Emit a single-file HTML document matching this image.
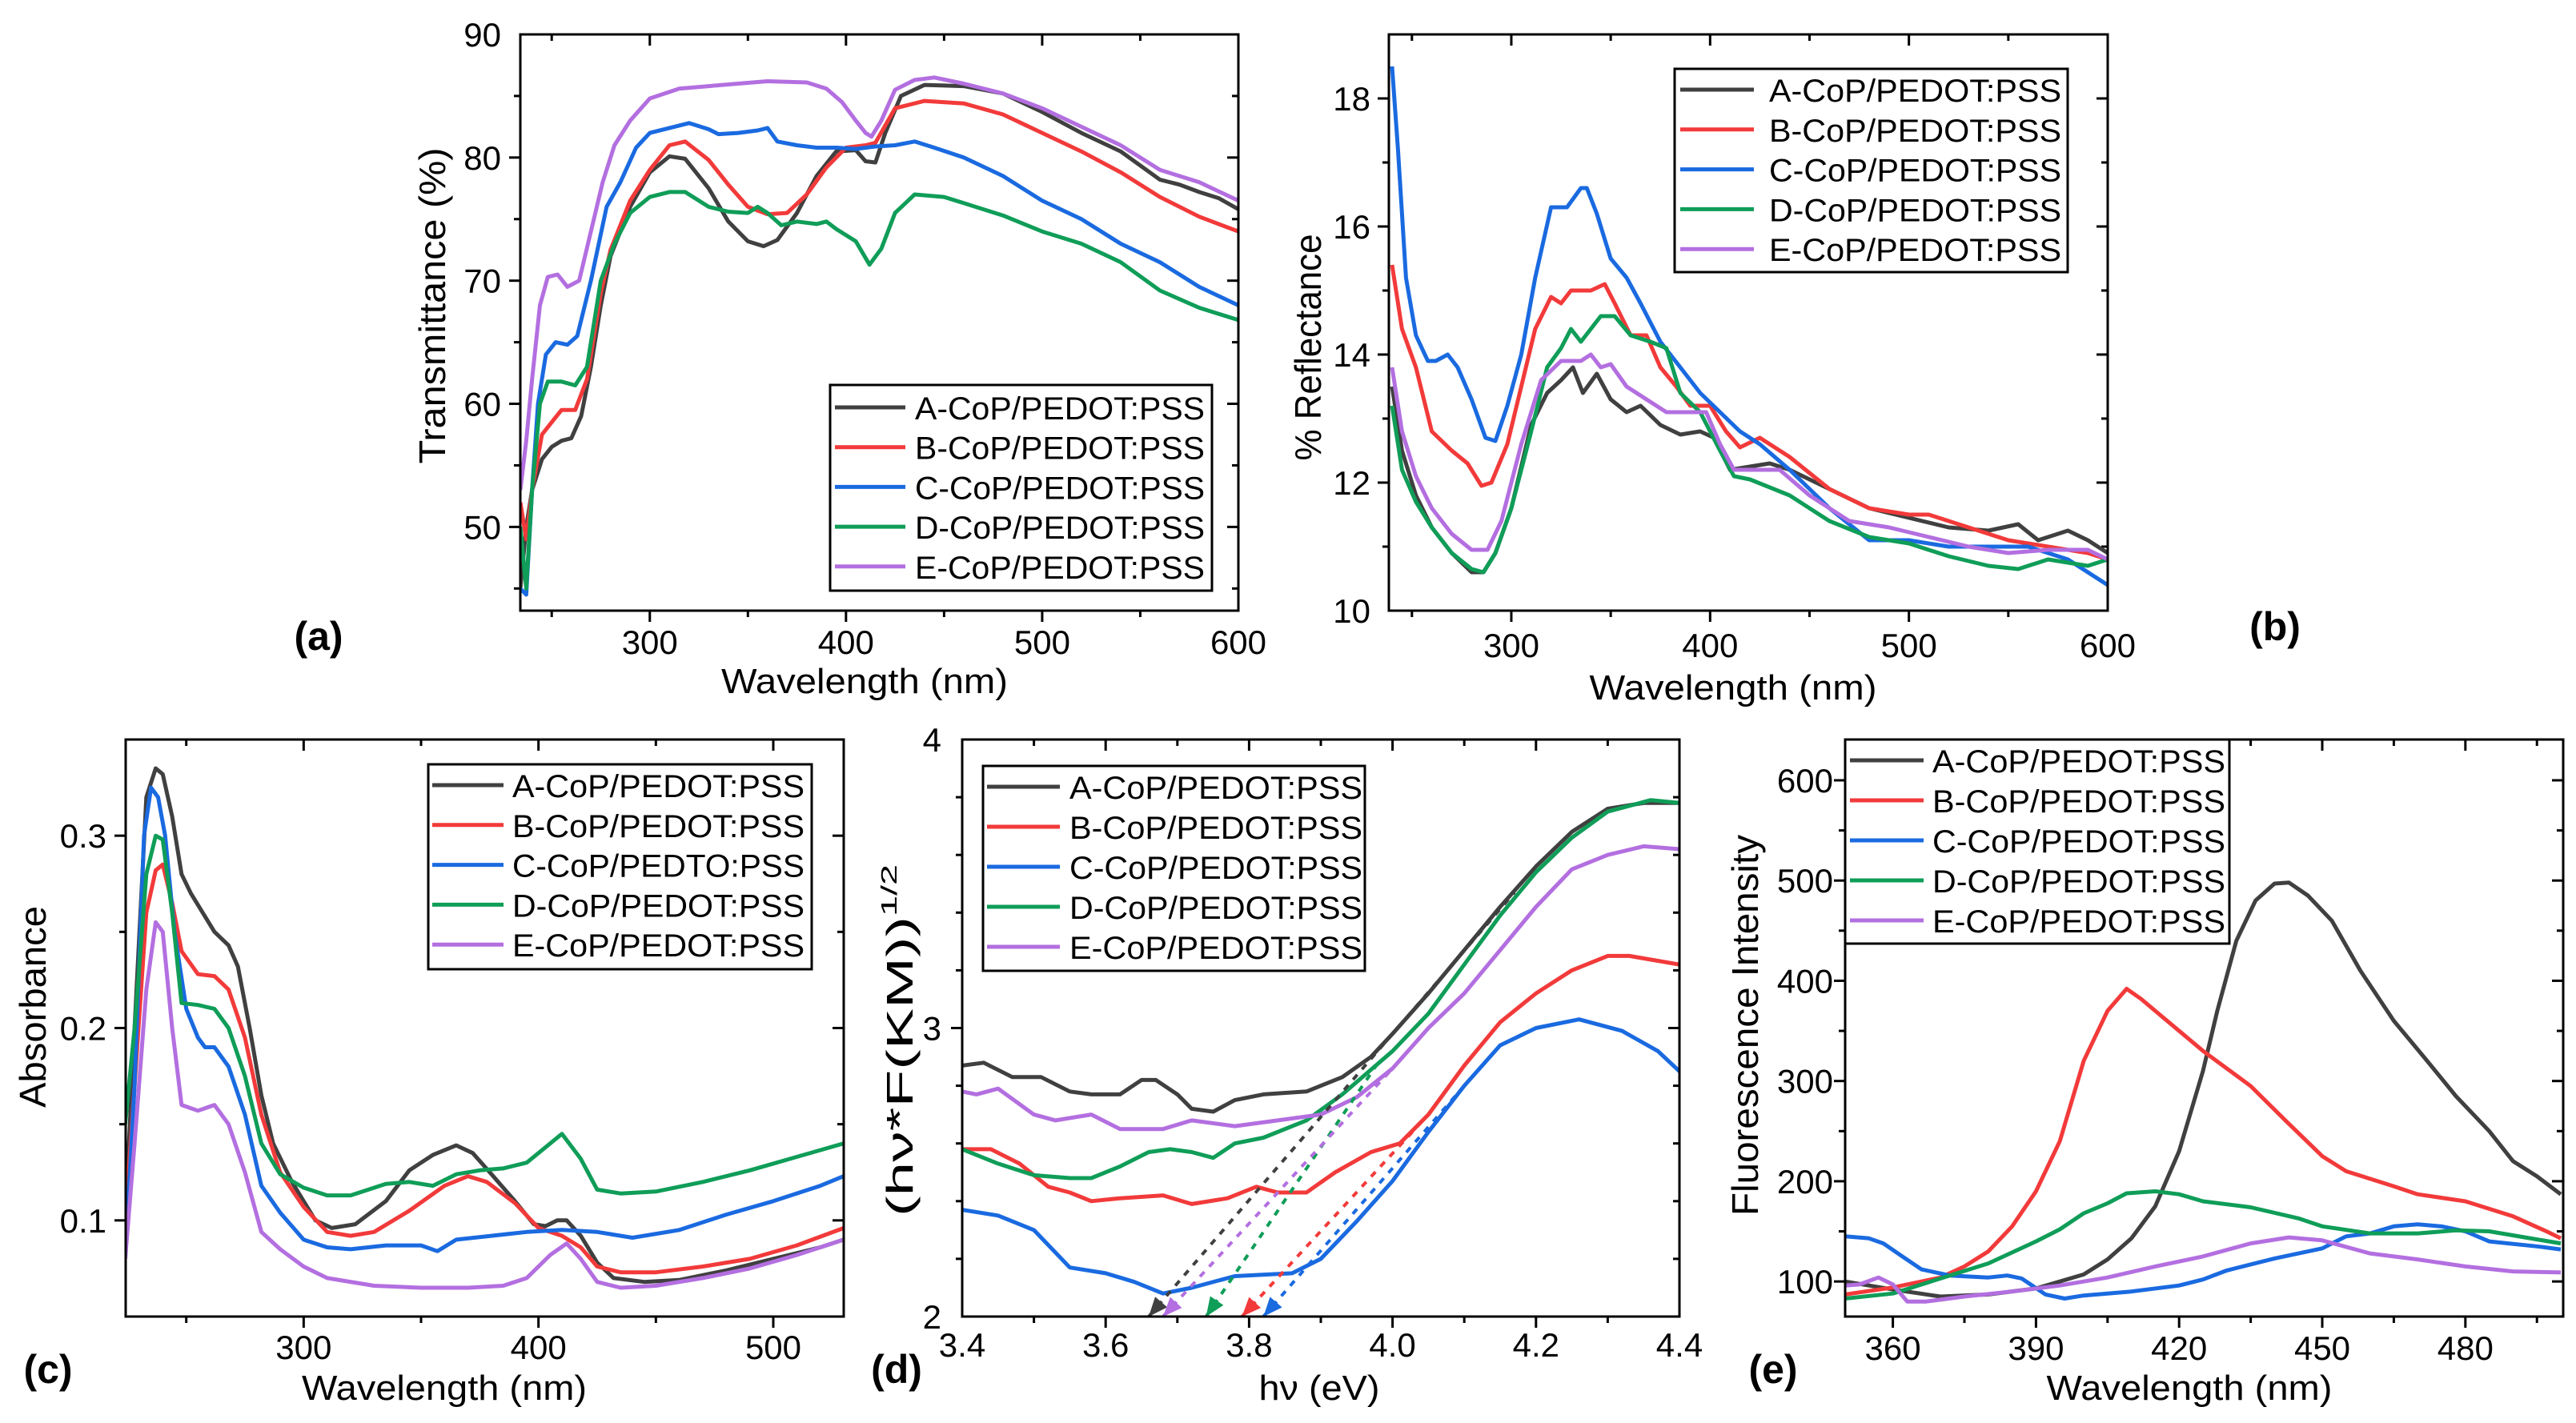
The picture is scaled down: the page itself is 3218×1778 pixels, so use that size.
<!DOCTYPE html>
<html><head><meta charset="utf-8"><style>
html,body{margin:0;padding:0;background:#fff;}
svg{display:block;font-family:"Liberation Sans",Arial,sans-serif;}
</style></head><body>
<svg id="fig" xmlns="http://www.w3.org/2000/svg" width="3218" height="1778" viewBox="0 0 3218 1778">
<rect x="0" y="0" width="3218" height="1778" fill="#fff"/>
</svg>
<script>
// ---------- Panel (a) Transmittance ----------
const transA = [[234,45],[237,50],[240,53],[245,55.5],[250,56.5],[255,57],[260,57.2],[265,59],[270,63],[275,68],[280,72],[290,76],[300,78.8],[310,80.1],[318,79.9],[330,77.5],[340,74.8],[350,73.2],[358,72.8],[365,73.3],[375,75.5],[385,78.5],[395,80.5],[405,80.6],[410,79.7],[415,79.6],[420,82],[428,85],[440,85.9],[460,85.8],[480,85.2],[500,83.7],[520,82],[540,80.5],[560,78.2],[570,77.8],[580,77.2],[590,76.7],[600,75.8]];
const transB = [[234,52],[237,49],[240,53],[245,57.5],[250,58.5],[255,59.5],[262,59.5],[268,62],[275,69],[280,72.5],[290,76.5],[300,79],[310,81],[318,81.3],[330,79.8],[340,77.8],[350,76],[360,75.4],[370,75.5],[380,77],[390,79.2],[400,80.8],[410,81],[415,81.2],[425,84],[440,84.6],[460,84.4],[480,83.5],[500,82],[520,80.5],[540,78.8],[560,76.8],[580,75.2],[600,74]];
const transC = [[234,45],[237,44.5],[240,53],[243,60],[247,64],[252,65],[258,64.8],[263,65.5],[270,70],[278,76],[285,78],[293,80.8],[300,82],[310,82.4],[320,82.8],[330,82.3],[335,81.9],[345,82],[355,82.2],[360,82.4],[365,81.3],[375,81],[385,80.8],[395,80.8],[405,80.7],[415,80.9],[425,81],[435,81.3],[445,80.8],[460,80],[480,78.5],[500,76.5],[520,75],[540,73],[560,71.5],[580,69.5],[600,68]];
const transD = [[234,50],[237,45],[240,53],[244,60],[248,61.8],[255,61.8],[262,61.5],[268,63],[275,70],[282,73],[290,75.5],[300,76.8],[310,77.2],[318,77.2],[330,76],[340,75.6],[350,75.5],[355,76],[360,75.5],[367,74.5],[375,74.8],[385,74.6],[390,74.8],[395,74.2],[405,73.2],[412,71.3],[418,72.6],[425,75.5],[435,77],[450,76.8],[460,76.3],[480,75.3],[500,74],[520,73],[540,71.5],[560,69.2],[580,67.8],[600,66.8]];
const transE = [[234,53],[237,57],[240,62],[244,68],[248,70.3],[253,70.5],[258,69.5],[264,70],[270,74],[276,78],[282,81],[290,83],[300,84.8],[315,85.6],[330,85.8],[345,86],[360,86.2],[380,86.1],[390,85.6],[398,84.5],[405,83],[410,82],[413,81.7],[418,83],[425,85.5],[435,86.3],[445,86.5],[460,86],[480,85.2],[500,84],[520,82.5],[540,81],[560,79],[580,78],[600,76.5]];
const transXTicks = [300,400,500,600];
const transYTicks = [50,60,70,80,90];

// ---------- Panel (b) Reflectance ----------
const reflA = [[240,13.5],[245,12.5],[252,11.8],[260,11.3],[270,10.9],[280,10.6],[286,10.6],[292,10.9],[300,11.6],[310,12.9],[318,13.4],[325,13.6],[331,13.8],[336,13.4],[343,13.7],[350,13.3],[358,13.1],[365,13.2],[375,12.9],[385,12.75],[395,12.8],[402,12.7],[410,12.2],[420,12.25],[430,12.3],[440,12.2],[460,11.9],[480,11.6],[500,11.45],[520,11.3],[540,11.25],[555,11.35],[565,11.1],[580,11.25],[590,11.1],[600,10.9]];
const reflB = [[240,15.4],[245,14.4],[252,13.8],[260,12.8],[270,12.5],[278,12.3],[285,11.95],[290,12],[298,12.6],[305,13.5],[312,14.4],[320,14.9],[325,14.8],[330,15],[340,15],[347,15.1],[352,14.8],[360,14.3],[368,14.3],[375,13.8],[383,13.5],[390,13.2],[400,13.2],[408,12.8],[415,12.55],[425,12.7],[440,12.4],[460,11.9],[480,11.6],[500,11.5],[510,11.5],[530,11.3],[550,11.1],[570,11.0],[590,10.9],[600,10.8]];
const reflC = [[240,18.5],[243,17.2],[247,15.2],[252,14.3],[258,13.9],[262,13.9],[268,14.0],[273,13.8],[280,13.3],[287,12.7],[292,12.65],[298,13.2],[305,14],[312,15.2],[320,16.3],[328,16.3],[335,16.6],[338,16.6],[343,16.2],[350,15.5],[358,15.2],[365,14.8],[375,14.2],[385,13.8],[395,13.4],[405,13.1],[415,12.8],[425,12.6],[440,12.2],[460,11.6],[480,11.1],[500,11.1],[520,11.0],[540,11.0],[560,11.0],[580,10.8],[590,10.6],[600,10.4]];
const reflD = [[240,13.2],[245,12.2],[252,11.7],[260,11.3],[270,10.9],[280,10.65],[286,10.6],[292,10.9],[300,11.6],[310,12.8],[318,13.8],[325,14.1],[330,14.4],[335,14.2],[345,14.6],[352,14.6],[360,14.3],[370,14.2],[378,14.1],[385,13.4],[395,13.1],[405,12.5],[412,12.1],[420,12.05],[440,11.8],[460,11.4],[480,11.15],[500,11.05],[520,10.85],[540,10.7],[555,10.65],[570,10.8],[580,10.75],[590,10.7],[600,10.8]];
const reflE = [[240,13.8],[245,12.8],[252,12.1],[260,11.6],[270,11.2],[280,10.95],[288,10.95],[295,11.4],[305,12.6],[315,13.6],[325,13.9],[335,13.9],[340,14.0],[345,13.8],[350,13.85],[358,13.5],[368,13.3],[378,13.1],[390,13.1],[398,13.1],[405,12.6],[412,12.2],[420,12.2],[435,12.2],[450,11.8],[470,11.4],[490,11.3],[510,11.15],[530,11.0],[550,10.9],[570,10.95],[590,10.95],[600,10.8]];
const reflXTicks = [300,400,500,600];
const reflYTicks = [10,12,14,16,18];

// ---------- Panel (c) Absorbance ----------
const absA = [[224,0.10],[228,0.2],[233,0.32],[237,0.335],[240,0.332],[244,0.31],[248,0.28],[252,0.27],[258,0.258],[262,0.25],[268,0.243],[272,0.232],[277,0.2],[282,0.165],[287,0.14],[295,0.12],[305,0.1],[312,0.096],[322,0.098],[335,0.11],[345,0.126],[355,0.134],[365,0.139],[372,0.135],[380,0.124],[390,0.11],[398,0.098],[403,0.097],[408,0.1],[412,0.1],[418,0.092],[425,0.078],[432,0.07],[445,0.068],[460,0.069],[480,0.074],[500,0.08],[520,0.086],[530,0.09]];
const absB = [[224,0.1],[228,0.17],[233,0.26],[237,0.282],[240,0.285],[244,0.265],[248,0.24],[255,0.228],[262,0.227],[268,0.22],[275,0.195],[282,0.155],[290,0.125],[300,0.107],[310,0.094],[320,0.092],[330,0.094],[345,0.105],[360,0.118],[370,0.123],[378,0.12],[390,0.109],[400,0.096],[410,0.092],[418,0.086],[425,0.076],[435,0.073],[450,0.073],[470,0.076],[490,0.08],[510,0.087],[530,0.096]];
const absC = [[224,0.08],[228,0.17],[232,0.3],[235,0.325],[238,0.32],[241,0.3],[245,0.25],[250,0.21],[255,0.195],[258,0.19],[262,0.19],[268,0.18],[275,0.155],[282,0.118],[290,0.104],[300,0.09],[310,0.086],[320,0.085],[335,0.087],[350,0.087],[357,0.084],[365,0.09],[380,0.092],[395,0.094],[410,0.095],[425,0.094],[440,0.091],[460,0.095],[480,0.103],[500,0.11],[520,0.118],[530,0.123]];
const absD = [[224,0.15],[228,0.2],[233,0.28],[237,0.3],[240,0.298],[244,0.26],[248,0.213],[255,0.212],[262,0.21],[268,0.2],[275,0.175],[282,0.14],[290,0.124],[300,0.117],[310,0.113],[320,0.113],[335,0.119],[345,0.12],[355,0.118],[365,0.124],[375,0.126],[385,0.127],[395,0.13],[402,0.137],[410,0.145],[418,0.132],[425,0.116],[435,0.114],[450,0.115],[470,0.12],[490,0.126],[510,0.133],[530,0.14]];
const absE = [[224,0.08],[228,0.14],[233,0.22],[237,0.255],[240,0.25],[244,0.2],[248,0.16],[255,0.157],[262,0.16],[268,0.15],[275,0.125],[282,0.094],[290,0.085],[300,0.076],[310,0.07],[330,0.066],[350,0.065],[370,0.065],[385,0.066],[395,0.07],[405,0.082],[412,0.088],[418,0.08],[425,0.068],[435,0.065],[450,0.066],[470,0.07],[490,0.075],[510,0.082],[530,0.09]];
const absXTicks = [300,400,500];
const absYTicks = [0.1,0.2,0.3];

// ---------- Panel (d) Tauc ----------
const taucA = [[3.40,2.87],[3.43,2.88],[3.47,2.83],[3.51,2.83],[3.55,2.78],[3.58,2.77],[3.62,2.77],[3.65,2.82],[3.67,2.82],[3.70,2.77],[3.72,2.72],[3.75,2.71],[3.78,2.75],[3.82,2.77],[3.88,2.78],[3.93,2.83],[3.97,2.9],[4.00,2.98],[4.05,3.12],[4.10,3.27],[4.15,3.42],[4.20,3.56],[4.25,3.68],[4.30,3.76],[4.35,3.78],[4.40,3.78]];
const taucB = [[3.40,2.58],[3.44,2.58],[3.48,2.53],[3.52,2.45],[3.55,2.43],[3.58,2.4],[3.62,2.41],[3.68,2.42],[3.72,2.39],[3.77,2.41],[3.81,2.45],[3.84,2.43],[3.88,2.43],[3.92,2.5],[3.97,2.57],[4.01,2.6],[4.05,2.7],[4.1,2.87],[4.15,3.02],[4.2,3.12],[4.25,3.2],[4.3,3.25],[4.33,3.25],[4.4,3.22]];
const taucC = [[3.40,2.37],[3.45,2.35],[3.5,2.3],[3.55,2.17],[3.6,2.15],[3.64,2.12],[3.68,2.08],[3.72,2.1],[3.78,2.14],[3.86,2.15],[3.9,2.2],[3.95,2.33],[4.0,2.47],[4.05,2.64],[4.1,2.8],[4.15,2.94],[4.2,3.0],[4.26,3.03],[4.32,2.99],[4.37,2.92],[4.4,2.85]];
const taucD = [[3.40,2.58],[3.45,2.53],[3.5,2.49],[3.55,2.48],[3.58,2.48],[3.62,2.52],[3.66,2.57],[3.69,2.58],[3.72,2.57],[3.75,2.55],[3.78,2.6],[3.82,2.62],[3.88,2.68],[3.93,2.77],[4.0,2.92],[4.05,3.05],[4.1,3.22],[4.15,3.39],[4.2,3.54],[4.25,3.66],[4.3,3.75],[4.36,3.79],[4.4,3.78]];
const taucE = [[3.40,2.78],[3.42,2.77],[3.45,2.79],[3.5,2.7],[3.53,2.68],[3.58,2.7],[3.62,2.65],[3.68,2.65],[3.72,2.68],[3.78,2.66],[3.84,2.68],[3.9,2.7],[3.95,2.76],[4.0,2.86],[4.05,3.0],[4.1,3.12],[4.15,3.27],[4.2,3.42],[4.25,3.55],[4.3,3.6],[4.35,3.63],[4.4,3.62]];
const taucFitStart = [[3.66,2],[3.79,2],[3.82,2],[3.74,2],[3.68,2]];
const taucFitEnd = [[4.17,3.47],[4.05,2.7],[4.1,2.8],[3.98,2.88],[4.0,2.86]];
const taucXTicks = [3.4,3.6,3.8,4.0,4.2,4.4];
const taucYTicks = [2,3,4];

// ---------- Panel (e) Fluorescence ----------
const flA = [[350,100],[355,96],[360,92],[370,85],[380,87],[390,93],[395,100],[400,107],[405,122],[410,143],[415,175],[420,230],[425,310],[428,370],[432,440],[436,480],[440,497],[443,498],[447,485],[452,460],[458,410],[465,360],[472,320],[478,285],[485,250],[490,220],[495,205],[500,187]];
const flB = [[350,87],[360,94],[370,104],[375,115],[380,130],[385,155],[390,190],[395,240],[400,320],[405,370],[409,392],[412,382],[418,358],[425,330],[435,295],[442,262],[450,225],[455,210],[465,195],[470,187],[480,180],[490,165],[497,150],[500,143]];
const flC = [[350,145],[355,143],[358,138],[362,125],[366,112],[372,106],[380,104],[384,106],[387,103],[392,87],[396,83],[400,86],[410,90],[420,96],[425,102],[430,111],[440,123],[450,133],[455,145],[460,148],[465,155],[470,157],[475,155],[480,150],[485,140],[495,135],[500,132]];
const flD = [[350,83],[360,88],[370,103],[380,118],[390,140],[395,152],[400,168],[405,178],[409,188],[415,190],[420,187],[425,180],[435,174],[445,163],[450,155],[460,148],[470,148],[478,151],[485,150],[495,142],[500,138]];
const flE = [[350,96],[353,97],[357,104],[360,97],[363,80],[367,80],[375,85],[385,90],[395,96],[405,104],[415,115],[425,125],[435,138],[443,144],[450,141],[460,128],[470,122],[480,115],[490,110],[500,109]];
const flXTicks = [360,390,420,450,480];
const flYTicks = [100,200,300,400,500,600];

const seriesNames = ["A-CoP/PEDOT:PSS","B-CoP/PEDOT:PSS","C-CoP/PEDOT:PSS","D-CoP/PEDOT:PSS","E-CoP/PEDOT:PSS"];
const absNames = ["A-CoP/PEDOT:PSS","B-CoP/PEDOT:PSS","C-CoP/PEDTO:PSS","D-CoP/PEDOT:PSS","E-CoP/PEDOT:PSS"];
const COLORS = ["#404040","#f23a3a","#1a6ae0","#0f9d58","#b36fe0"];

const NS = "http://www.w3.org/2000/svg";
const fig = document.getElementById("fig");
function mk(tag, attrs, parent){
  const e = document.createElementNS(NS, tag);
  for (const k in attrs) e.setAttribute(k, attrs[k]);
  (parent||fig).appendChild(e);
  return e;
}
let clipId = 0;
function fmt(v, dec){ return dec>0 ? v.toFixed(dec) : String(v); }

function panel(c){
  const g = mk("g", {});
  
  
  const L=c.box[0], T=c.box[1], R=c.box[2], B=c.box[3];
  const sx = v => L + (v - c.xd[0])/(c.xd[1]-c.xd[0])*(R-L);
  const sy = v => B - (v - c.yd[0])/(c.yd[1]-c.yd[0])*(B-T);
  const cid = "clip"+(clipId++);
  const cp = mk("clipPath", {id:cid}, g);
  mk("rect", {x:L, y:T, width:R-L, height:B-T}, cp);
  // minor ticks
  for (let v = Math.ceil(c.xd[0]/c.xm-1e-9)*c.xm; v <= c.xd[1]+1e-9; v += c.xm){
    const x = sx(v);
    if (x < L+1 || x > R-1) continue;
    const major = c.xt.some(t => Math.abs(t-v) < 1e-6);
    const len = major ? 14 : 8;
    const t1 = mk("line", {x1:x, y1:B, x2:x, y2:B+len, stroke:"#000", "stroke-width":3}, g);
    
    
    mk("line", {x1:x, y1:T, x2:x, y2:T+len, stroke:"#000", "stroke-width":3}, g);
  }
  for (let v = Math.ceil(c.yd[0]/c.ym-1e-9)*c.ym; v <= c.yd[1]+1e-9; v += c.ym){
    const y = sy(v);
    if (y < T+1 || y > B-1) continue;
    const major = c.yt.some(t => Math.abs(t-v) < 1e-6);
    const len = major ? 14 : 8;
    const t2 = mk("line", {x1:L-len, y1:y, x2:L, y2:y, stroke:"#000", "stroke-width":3}, g);
    
    
    mk("line", {x1:R-len, y1:y, x2:R, y2:y, stroke:"#000", "stroke-width":3}, g);
  }
  // tick labels
  c.xt.forEach(v => {
    const t = mk("text", {x:sx(v), y:c.xLabY, "font-size":42, "text-anchor":"middle", fill:"#000"}, g);
    t.textContent = fmt(v, c.xdec);
    
    
  });
  c.yt.forEach(v => {
    const t = mk("text", {x:c.yLabX, y:sy(v)+15, "font-size":42, "text-anchor":"end", fill:"#000"}, g);
    t.textContent = fmt(v, c.ydec);
    
    
  });
  // series
  const lines = mk("g", {"clip-path":"url(#"+cid+")"}, g);
  c.series.forEach((s, i) => {
    const d = s.map((p, j) => (j ? "L" : "M") + sx(p[0]).toFixed(1) + " " + sy(p[1]).toFixed(1)).join(" ");
    const p = mk("path", {d:d, fill:"none", stroke:COLORS[i], "stroke-width":5, "stroke-linejoin":"round"}, lines);
    
    
  });
  if (c.fits){
    c.fits[0].forEach((st, i) => {
      const en = c.fits[1][i];
      const x1 = sx(st[0]), y1 = sy(st[1]), x2 = sx(en[0]), y2 = sy(en[1]);
      const fl = mk("line", {x1:x1, y1:y1, x2:x2, y2:y2, stroke:COLORS[i], "stroke-width":4, "stroke-dasharray":"8 9"}, lines);
      
      
      const ang = Math.atan2(y1-y2, x1-x2);
      const ax = x1, ay = y1, s = 24, w = 10;
      const bx = ax - s*Math.cos(ang), by = ay - s*Math.sin(ang);
      const px = -Math.sin(ang)*w, py = Math.cos(ang)*w;
      const ah = mk("polygon", {points:`${ax},${ay} ${bx+px},${by+py} ${bx-px},${by-py}`, fill:COLORS[i]}, lines);
      
      
    });
  }
  // frame
  const fr = mk("rect", {x:L, y:T, width:R-L, height:B-T, fill:"none", stroke:"#000", "stroke-width":3}, g);
  
  
  // legend
  const lg = c.leg;
  const lgG = mk("g", {}, g);
  
  
  mk("rect", {x:lg.x1, y:lg.y1, width:lg.x2-lg.x1, height:lg.y2-lg.y1, fill:"#fff", stroke:"#000", "stroke-width":3}, lgG);
  c.names.forEach((n, i) => {
    const y = lg.r0 + i*lg.dr;
    const ln = mk("line", {x1:lg.lx1, y1:y, x2:lg.lx2, y2:y, stroke:COLORS[i], "stroke-width":5}, lgG);
    
    
    const t = mk("text", {x:lg.tx, y:y+15, "font-size":40, textLength:lg.tw, lengthAdjust:"spacingAndGlyphs", fill:"#000"}, lgG);
    t.textContent = n;
    
    
  });
  // titles
  const xt = mk("text", {x:c.xTitle[0], y:c.xTitle[1], "font-size":44, "text-anchor":"middle", textLength:c.xTitle[2], lengthAdjust:"spacingAndGlyphs", fill:"#000"}, g);
  xt.textContent = c.xTitleText;
  
  
  const yt = mk("text", {x:0, y:0, "font-size":46, "text-anchor":"middle", textLength:c.yTitle[2], lengthAdjust:"spacingAndGlyphs", fill:"#000", transform:`translate(${c.yTitle[0]},${c.yTitle[1]}) rotate(-90)`}, g);
  if (c.yTitleSup){
    const a = mk("tspan", {}, yt); a.textContent = c.yTitleText;
    const b = mk("tspan", {"font-size":28, dy:-20}, yt); b.textContent = c.yTitleSup;
  } else yt.textContent = c.yTitleText;
  
  
  const pl = mk("text", {x:c.lab[0], y:c.lab[1], "font-size":50, "font-weight":"bold", "text-anchor":"middle", fill:"#000"}, g);
  pl.textContent = c.labText;
  
  
}

panel({name:"panel-a-transmittance", box:[650,43,1547,763], xd:[234,600], yd:[43.2,90],
  xt:transXTicks, yt:transYTicks, xm:50, ym:5, xdec:0, ydec:0, xLabY:817, yLabX:626,
  series:[transA,transB,transC,transD,transE], names:seriesNames,
  leg:{x1:1037,y1:481,x2:1514,y2:738,r0:509,dr:49.7,lx1:1043,lx2:1131,tx:1143,tw:362},
  xTitle:[1080,866,358], xTitleText:"Wavelength (nm)", yTitle:[556,382,395], yTitleText:"Transmittance (%)",
  lab:[398,812], labText:"(a)"});

panel({name:"panel-b-reflectance", box:[1735,43,2633,763], xd:[238.4,600], yd:[10,19],
  xt:reflXTicks, yt:reflYTicks, xm:50, ym:1, xdec:0, ydec:0, xLabY:821, yLabX:1712,
  series:[reflA,reflB,reflC,reflD,reflE], names:seriesNames,
  leg:{x1:2092,y1:86,x2:2583,y2:340,r0:112,dr:49.8,lx1:2099,lx2:2191,tx:2210,tw:365},
  xTitle:[2165,874,359], xTitleText:"Wavelength (nm)", yTitle:[1650,434,283], yTitleText:"% Reflectance",
  lab:[2842,800], labText:"(b)"});

panel({name:"panel-c-absorbance", box:[157,924,1054,1645], xd:[224.2,530], yd:[0.05,0.35],
  xt:absXTicks, yt:absYTicks, xm:50, ym:0.05, xdec:0, ydec:1, xLabY:1698, yLabX:133,
  series:[absA,absB,absC,absD,absE], names:absNames,
  leg:{x1:535,y1:955,x2:1014,y2:1211,r0:981,dr:49.8,lx1:540,lx2:629,tx:640,tw:365},
  xTitle:[555,1749,356], xTitleText:"Wavelength (nm)", yTitle:[57,1258,252], yTitleText:"Absorbance",
  lab:[60,1728], labText:"(c)"});

panel({name:"panel-d-tauc-plot", box:[1202,924,2098,1645], xd:[3.4,4.4], yd:[2,4],
  xt:taucXTicks, yt:taucYTicks, xm:0.1, ym:0.2, xdec:1, ydec:0, xLabY:1695, yLabX:1176,
  series:[taucA,taucB,taucC,taucD,taucE], names:seriesNames, fits:[taucFitStart,taucFitEnd],
  leg:{x1:1228,y1:957,x2:1705,y2:1213,r0:983,dr:50,lx1:1233,lx2:1324,tx:1336,tw:366},
  xTitle:[1648,1749,151], xTitleText:"h\u03bd (eV)", yTitle:[1140,1300,440], yTitleText:"(h\u03bd*F(KM))", yTitleSup:"1/2",
  lab:[1120,1728], labText:"(d)"});

panel({name:"panel-e-fluorescence", box:[2305,924,3202,1645], xd:[350,500.5], yd:[65,640.7],
  xt:flXTicks, yt:flYTicks, xm:15, ym:50, xdec:0, ydec:0, xLabY:1699, yLabX:2290,
  series:[flA,flB,flC,flD,flE], names:seriesNames,
  leg:{x1:2305,y1:924,x2:2785,y2:1179,r0:950,dr:50,lx1:2311,lx2:2403,tx:2414,tw:366},
  xTitle:[2735,1749,357], xTitleText:"Wavelength (nm)", yTitle:[2196,1281,476], yTitleText:"Fluorescence Intensity",
  lab:[2215,1728], labText:"(e)"});
</script>
</body></html>
